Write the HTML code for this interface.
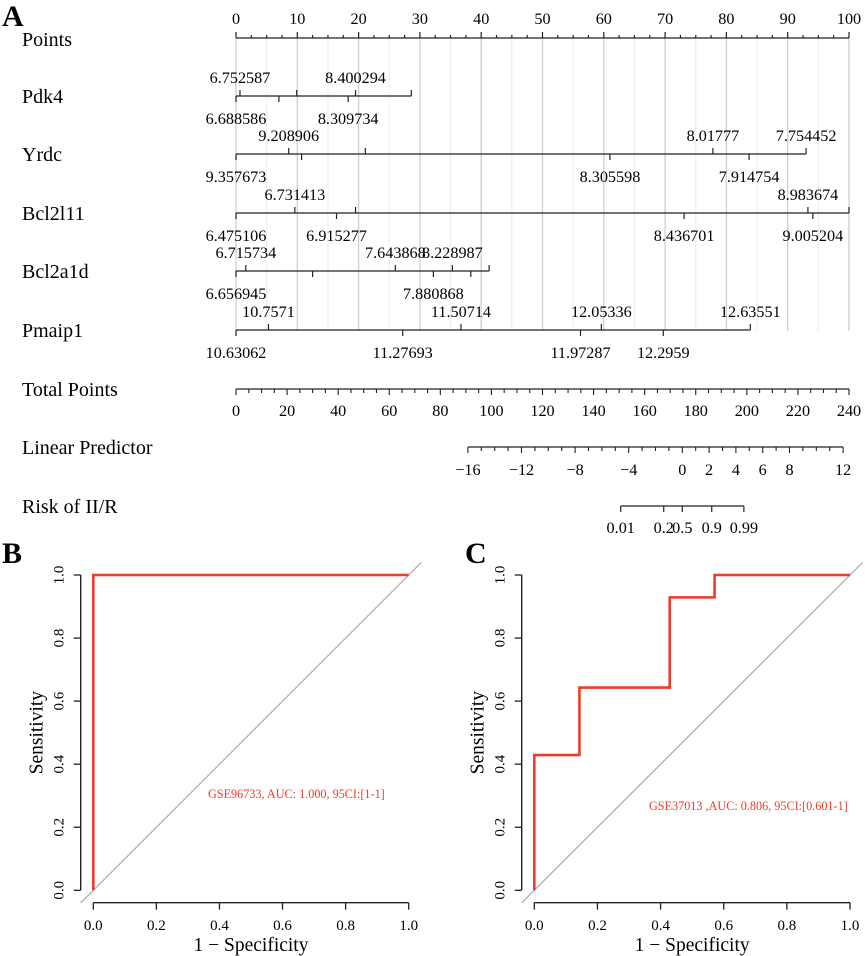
<!DOCTYPE html>
<html><head><meta charset="utf-8"><style>
html,body{margin:0;padding:0;background:#fff;}
svg{display:block;font-family:"Liberation Serif",serif;}
</style></head><body>
<svg id="fig" width="865" height="956" viewBox="0 0 865 956" xmlns="http://www.w3.org/2000/svg">
<text x="2" y="26" font-size="30" font-weight="bold">A</text>
<text x="2" y="563" font-size="30" font-weight="bold">B</text>
<text x="465" y="563" font-size="30" font-weight="bold">C</text>
<g id="nomo"></g>
<g id="rocB"></g>
<g id="rocC"></g>
</svg>
<script>
const NS="http://www.w3.org/2000/svg";
// ---- Nomogram data ----
const varNames=["Pdk4","Yrdc","Bcl2l11","Bcl2a1d","Pmaip1"];
const pdk4Pts=[0.65,9.9,19.5,28.6,0,7.0,18.3];
const pdk4Labels=["6.752587","","8.400294","","6.688586","","8.309734"];
const pdk4Side=[1,1,1,1,-1,-1,-1];
const yrdcPts=[8.6,21.1,77.8,93.0,0,10.7,61.0,83.7];
const yrdcLabels=["9.208906","","8.01777","7.754452","9.357673","","8.305598","7.914754"];
const yrdcSide=[1,1,1,1,-1,-1,-1,-1];
const bcl2l11Pts=[9.6,19.5,93.3,100,0,16.4,73.1,94.1];
const bcl2l11Labels=["6.731413","","8.983674","","6.475106","6.915277","8.436701","9.005204"];
const bcl2l11Side=[1,1,1,1,-1,-1,-1,-1];
const bcl2a1dPts=[1.6,26.0,35.3,41.3,0,12.5,32.2,38.3];
const bcl2a1dLabels=["6.715734","7.643868","8.228987","","6.656945","","7.880868",""];
const bcl2a1dSide=[1,1,1,1,-1,-1,-1,-1];
const pmaip1Pts=[5.3,36.7,59.6,83.9,0,27.2,56.2,69.7];
const pmaip1Labels=["10.7571","11.50714","12.05336","12.63551","10.63062","11.27693","11.97287","12.2959"];
const pmaip1Side=[1,1,1,1,-1,-1,-1,-1];
const totalTicks=[0,20,40,60,80,100,120,140,160,180,200,220,240];
const lpTicks=[-16,-12,-8,-4,0,2,4,6,8,12];
const riskTicks=[0.01,0.2,0.5,0.9,0.99];
const riskLabels=["0.01","0.2","0.5","0.9","0.99"];
// ---- ROC data ----
const rocBFpr=[0,0,1];
const rocBTpr=[0,1,1];
const rocCFpr=[0,0,0.143,0.143,0.429,0.429,0.571,0.571,1];
const rocCTpr=[0,0.429,0.429,0.643,0.643,0.929,0.929,1,1];
const rocTicks=[0,0.2,0.4,0.6,0.8,1.0];

function el(tag,attrs,parent,text){const e=document.createElementNS(NS,tag);for(const k in attrs)e.setAttribute(k,attrs[k]);if(text!==undefined)e.textContent=text;parent.appendChild(e);return e;}

const nomo=document.getElementById('nomo');
const P0=236,P1=849;
const px=p=>P0+(P1-P0)*p/100;
const tpx=t=>P0+(P1-P0)*t/240;
const lpx=v=>682.3+13.4*v;
const VF=16.2;
// grid
for(let p=0;p<=100;p+=5){
  const g=el('line',{x1:px(p),x2:px(p),y1:38,y2:331,stroke:p%10===0?'#cfcfcf':'#ebebeb','stroke-width':p%10===0?1.3:1},nomo);
  
  
}
function rowLabel(txt,y,name){const t=el('text',{x:22,y:y+7,'font-size':20},nomo,txt);}
// Points axis
rowLabel('Points',39,'points-row-label');
el('line',{x1:px(0),x2:px(100),y1:38,y2:38,stroke:'#222','stroke-width':1.3},nomo);
for(let i=0;i<=40;i++){const p=i*2.5;const major=i%4===0;
  el('line',{x1:px(p),x2:px(p),y1:38,y2:major?32:35,stroke:'#222','stroke-width':1.2},nomo);
  if(major){const t=el('text',{x:px(p),y:24,'font-size':VF,'text-anchor':'middle'},nomo,String(p));}
}
const rowsY=[96,154,213,271,330];
const rowPts=[pdk4Pts,yrdcPts,bcl2l11Pts,bcl2a1dPts,pmaip1Pts];
const rowLabs=[pdk4Labels,yrdcLabels,bcl2l11Labels,bcl2a1dLabels,pmaip1Labels];
const rowSides=[pdk4Side,yrdcSide,bcl2l11Side,bcl2a1dSide,pmaip1Side];
varNames.forEach((nm,r)=>{
  const y=rowsY[r];
  rowLabel(nm,y,nm.toLowerCase()+'-row-label');
  const pts=rowPts[r];const mx=Math.max(...pts);
  const g=el('g',{},nomo);
  
  
  el('line',{x1:px(0),x2:px(mx),y1:y,y2:y,stroke:'#222','stroke-width':1.3},g);
  pts.forEach((p,i)=>{const s=rowSides[r][i];
    el('line',{x1:px(p),x2:px(p),y1:y,y2:y-6*s,stroke:'#222','stroke-width':1.2},g);
    if(rowLabs[r][i]){const t=el('text',{x:px(p),y:s>0?y-13:y+28,'font-size':VF,'text-anchor':'middle'},g,rowLabs[r][i]);
      
      }
  });
});
// Total points
rowLabel('Total Points',389,'total-points-label');
el('line',{x1:tpx(0),x2:tpx(240),y1:389,y2:389,stroke:'#222','stroke-width':1.3},nomo);
for(let t=0;t<=240;t+=5){el('line',{x1:tpx(t),x2:tpx(t),y1:389,y2:t%20===0?395:393,stroke:'#222','stroke-width':1.1},nomo);}
totalTicks.forEach(t=>{const e=el('text',{x:tpx(t),y:416,'font-size':VF,'text-anchor':'middle'},nomo,String(t));});
// Linear predictor
rowLabel('Linear Predictor',447,'linear-predictor-label');
el('line',{x1:lpx(-16),x2:lpx(12),y1:447,y2:447,stroke:'#222','stroke-width':1.3},nomo);
for(let v=-16;v<=12;v++){el('line',{x1:lpx(v),x2:lpx(v),y1:447,y2:lpTicks.includes(v)?453:451,stroke:'#222','stroke-width':1.1},nomo);}
lpTicks.forEach(v=>{const e=el('text',{x:lpx(v),y:475,'font-size':VF,'text-anchor':'middle'},nomo,v<0?'\u2212'+(-v):String(v));});
// Risk
rowLabel('Risk of II/R',506,'risk-label');
const rpx=p=>lpx(Math.log(p/(1-p)));
el('line',{x1:rpx(0.01),x2:rpx(0.99),y1:506,y2:506,stroke:'#222','stroke-width':1.3},nomo);
riskTicks.forEach((p,i)=>{el('line',{x1:rpx(p),x2:rpx(p),y1:506,y2:512,stroke:'#222','stroke-width':1.2},nomo);
  const e=el('text',{x:rpx(p),y:533,'font-size':VF,'text-anchor':'middle'},nomo,riskLabels[i]);});

// ---- ROC ----
function roc(id,x0,x1,axisX,fpr,tpr,txt,tx,ty){
  const g=document.getElementById(id);
  const y0=890.3,y1=575;
  const sx=v=>x0+(x1-x0)*v, sy=v=>y0+(y1-y0)*v;
  el('line',{x1:axisX,x2:axisX,y1:sy(0),y2:sy(1),stroke:'#222','stroke-width':1.4},g);
  el('line',{x1:sx(0),x2:sx(1),y1:902.7,y2:902.7,stroke:'#222','stroke-width':1.4},g);
  rocTicks.forEach(v=>{
    el('line',{x1:axisX,x2:axisX-7,y1:sy(v),y2:sy(v),stroke:'#222','stroke-width':1.3},g);
    el('line',{x1:sx(v),x2:sx(v),y1:902.7,y2:909.7,stroke:'#222','stroke-width':1.3},g);
    const a=el('text',{x:sx(v),y:930,'font-size':15,'text-anchor':'middle'},g,v.toFixed(1));
    
    const b=el('text',{x:0,y:0,'font-size':15,'text-anchor':'middle',transform:`translate(${axisX-17},${sy(v)}) rotate(-90)`},g,v.toFixed(1));
    
  });
  const xt=el('text',{x:(sx(0)+sx(1))/2,y:951,'font-size':19.5,'text-anchor':'middle'},g,'1 \u2212 Specificity');
  
  const yt=el('text',{x:0,y:0,'font-size':19.5,'text-anchor':'middle',transform:`translate(${axisX-38},${sy(0.5)}) rotate(-90)`},g,'Sensitivity');
  
  const d=el('line',{x1:sx(-0.04),y1:sy(-0.04),x2:sx(1.04),y2:sy(1.04),stroke:'#aaa','stroke-width':1.2},g);
  
  
  const pts=fpr.map((f,i)=>sx(f)+','+sy(tpr[i])).join(' ');
  const c=el('polyline',{points:pts,fill:'none',stroke:'#ee3b2b','stroke-width':2.6},g);
  
  
  const t=el('text',{x:tx,y:ty,'font-size':12.2,fill:'#ee3b2b'},g,txt);
  
  
}
roc('rocB',93.3,408.7,80.7,rocBFpr,rocBTpr,'GSE96733, AUC: 1.000, 95CI:[1-1]',208,798);
roc('rocC',534.3,850,521.7,rocCFpr,rocCTpr,'GSE37013 ,AUC: 0.806, 95CI:[0.601-1]',649,810);
</script>
</body></html>
